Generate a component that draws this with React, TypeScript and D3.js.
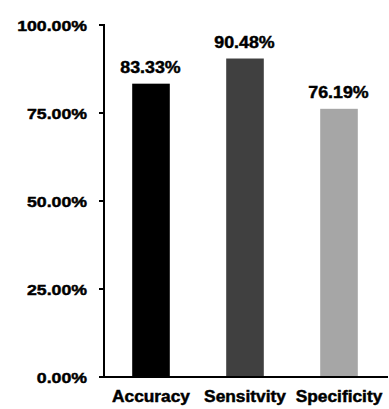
import React from "react";
import * as d3 from "d3";

const categories = ["Accuracy", "Sensitvity", "Specificity"];
const values = [0.8333, 0.9048, 0.7619];
const valueLabels = ["83.33%", "90.48%", "76.19%"];
const colors = ["#000000", "#404040", "#a6a6a6"];
const yTicks = [0, 0.25, 0.5, 0.75, 1];
const yTickLabels = ["0.00%", "25.00%", "50.00%", "75.00%", "100.00%"];

const W = 389;
const H = 409;
const left = 104;
const right = 386;
const top = 25;
const bottom = 377;
const font = "'Liberation Sans', Arial, sans-serif";

function Label({ x, y, anchor, size, text, dy, sx }: { x: number; y: number; anchor: string; size: number; text: string; dy?: string; sx: number }) {
  return (
    <g transform={`translate(${x},${y}) scale(${sx},1)`}>
      <text x={0} y={0} dy={dy} textAnchor={anchor} fontSize={size} fill="#000" stroke="#000" strokeWidth={0.45}>
        {text}
      </text>
    </g>
  );
}

export default function App() {
  const y = d3.scaleLinear().domain([0, 1]).range([bottom, top]);
  const x = d3
    .scaleBand<string>()
    .domain(categories)
    .range([left, right])
    .paddingInner(0.6)
    .paddingOuter(0.3);

  return (
    <svg
      width={W}
      height={H}
      style={{ position: "absolute", left: 0, top: 0, background: "#fff" }}
      fontFamily={font}
      fontWeight="bold"
    >
      {categories.map((c, i) => (
        <g key={c}>
          <rect
            x={x(c)!}
            y={y(values[i])}
            width={x.bandwidth()}
            height={y(0) - y(values[i])}
            fill={colors[i]}
          />
          <Label x={x(c)! + x.bandwidth() / 2 - 0.5} y={y(values[i]) - 10.5} anchor="middle" size={16.2} sx={1.1} text={valueLabels[i]} />
          <Label x={x(c)! + x.bandwidth() / 2} y={bottom + 24.5} anchor="middle" size={15.6} sx={1.11} text={c} />
        </g>
      ))}
      {yTicks.map((t, i) => (
        <g key={t}>
          <line x1={left - 5} x2={left} y1={y(t)} y2={y(t)} stroke="#000" strokeWidth={2} />
          <Label x={left - 17} y={y(t)} dy="0.36em" anchor="end" size={15.4} sx={1.15} text={yTickLabels[i]} />
        </g>
      ))}
      <line x1={left} x2={left} y1={top - 1} y2={bottom + 1} stroke="#000" strokeWidth={2} />
      <line x1={left - 1} x2={388} y1={bottom} y2={bottom} stroke="#000" strokeWidth={2} />
    </svg>
  );
}
